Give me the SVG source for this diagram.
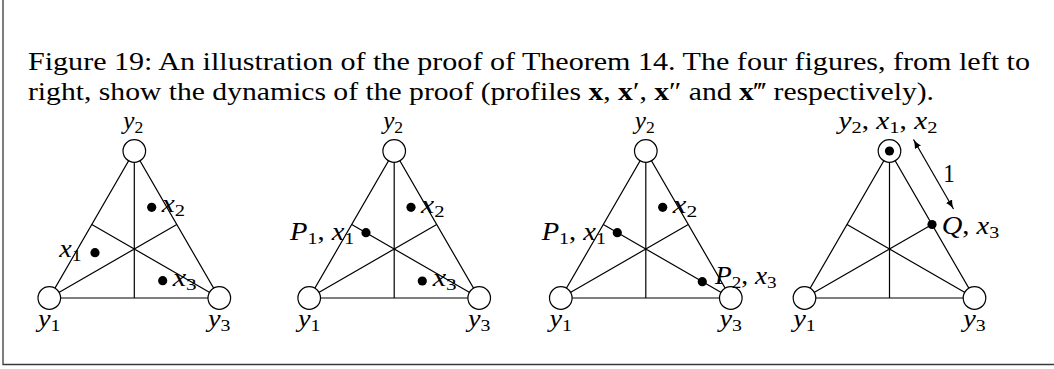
<svg xmlns="http://www.w3.org/2000/svg" width="1054" height="369" viewBox="0 0 1054 369">
<defs>
<style>
text { font-family: "Liberation Serif", "DejaVu Serif", serif; fill: #000; }
.cap { font-size: 25px; }
.lab { font-size: 25px; }
.i { font-style: italic; }
.b { font-weight: bold; }
.s { font-size: 17.5px; }
.edge { stroke: #000; stroke-width: 1.2; fill: none; }
.node { fill: #fff; stroke: #000; stroke-width: 1.2; }
.dot { fill: #000; stroke: none; }
.frame { stroke: #3a3a3a; stroke-width: 1.3; fill: none; }
</style>
<marker id="arr" viewBox="0 0 10 8" refX="10" refY="4" markerWidth="9" markerHeight="7.2" markerUnits="userSpaceOnUse" orient="auto-start-reverse">
<path d="M10,4 C7,4.6 3,6 0,8 L0,0 C3,2 7,3.4 10,4 Z" fill="#000"/>
</marker>
</defs>
<rect width="1054" height="369" fill="#fff"/>
<path class="frame" d="M3,0 V364.5 H1054"/>
<g id="caption">
<text class="cap" x="28" y="70" textLength="1002" lengthAdjust="spacingAndGlyphs">Figure 19: An illustration of the proof of Theorem 14. The four figures, from left to</text>
<text class="cap" x="28" y="100" textLength="906" lengthAdjust="spacingAndGlyphs">right, show the dynamics of the proof (profiles <tspan class="b">x</tspan>, <tspan class="b">x</tspan>′, <tspan class="b">x</tspan>″ and <tspan class="b">x</tspan>‴ respectively).</text>
</g>
<g id="connectors">
<path class="edge" d="M49.3,298 L219.3,298 L134.3,151 Z"/>
<path class="edge" d="M134.3,151 V298 M49.3,298 L176.8,224.5 M219.3,298 L91.8,224.5"/>
<path class="edge" d="M309.2,298 L479.2,298 L394.2,151 Z"/>
<path class="edge" d="M394.2,151 V298 M309.2,298 L436.7,224.5 M479.2,298 L351.7,224.5"/>
<path class="edge" d="M560.8,298 L730.8,298 L645.8,151 Z"/>
<path class="edge" d="M645.8,151 V298 M560.8,298 L688.3,224.5 M730.8,298 L603.3,224.5"/>
<path class="edge" d="M804.5,298 L974.5,298 L889.5,151 Z"/>
<path class="edge" d="M889.5,151 V298 M804.5,298 L932,224.5 M974.5,298 L847,224.5"/>
<line class="edge" x1="913.5" y1="139.5" x2="953.5" y2="209" marker-start="url(#arr)" marker-end="url(#arr)"/>
<text class="lab" x="943.3" y="182" textLength="11.5" lengthAdjust="spacingAndGlyphs">1</text>
</g>
<g id="t1-y2"><circle class="node" cx="134.3" cy="151" r="11.3"/><text class="lab" x="123.3" y="128.5" textLength="20" lengthAdjust="spacingAndGlyphs"><tspan class="i">y</tspan><tspan class="s" dy="4">2</tspan></text></g>
<g id="t1-y1"><circle class="node" cx="49.3" cy="298" r="11.3"/><text class="lab" x="38" y="326.5" textLength="22.5" lengthAdjust="spacingAndGlyphs"><tspan class="i">y</tspan><tspan class="s" dy="4">1</tspan></text></g>
<g id="t1-y3"><circle class="node" cx="219.3" cy="298" r="11.3"/><text class="lab" x="208" y="326.5" textLength="22.5" lengthAdjust="spacingAndGlyphs"><tspan class="i">y</tspan><tspan class="s" dy="4">3</tspan></text></g>
<g id="t1-x1"><circle class="dot" cx="95" cy="252.7" r="4.6"/><text class="lab" x="59.3" y="256.7" textLength="22.4" lengthAdjust="spacingAndGlyphs"><tspan class="i">x</tspan><tspan class="s" dy="4">1</tspan></text></g>
<g id="t1-x2"><circle class="dot" cx="151.7" cy="207.3" r="4.6"/><text class="lab" x="161.7" y="212.3" textLength="23.3" lengthAdjust="spacingAndGlyphs"><tspan class="i">x</tspan><tspan class="s" dy="4">2</tspan></text></g>
<g id="t1-x3"><circle class="dot" cx="162.7" cy="280.7" r="4.6"/><text class="lab" x="172.7" y="286" textLength="24" lengthAdjust="spacingAndGlyphs"><tspan class="i">x</tspan><tspan class="s" dy="4">3</tspan></text></g>
<g id="t2-y2"><circle class="node" cx="394.2" cy="151" r="11.3"/><text class="lab" x="383.2" y="128.5" textLength="20" lengthAdjust="spacingAndGlyphs"><tspan class="i">y</tspan><tspan class="s" dy="4">2</tspan></text></g>
<g id="t2-y1"><circle class="node" cx="309.2" cy="298" r="11.3"/><text class="lab" x="297.9" y="326.5" textLength="22.5" lengthAdjust="spacingAndGlyphs"><tspan class="i">y</tspan><tspan class="s" dy="4">1</tspan></text></g>
<g id="t2-y3"><circle class="node" cx="479.2" cy="298" r="11.3"/><text class="lab" x="467.9" y="326.5" textLength="22.5" lengthAdjust="spacingAndGlyphs"><tspan class="i">y</tspan><tspan class="s" dy="4">3</tspan></text></g>
<g id="t2-p1"><circle class="dot" cx="366" cy="232.7" r="4.6"/><text class="lab" x="290" y="240" textLength="64.3" lengthAdjust="spacingAndGlyphs"><tspan class="i">P</tspan><tspan class="s" dy="4">1</tspan><tspan dy="-4">, </tspan><tspan class="i">x</tspan><tspan class="s" dy="4">1</tspan></text></g>
<g id="t2-x2"><circle class="dot" cx="411" cy="207.3" r="4.6"/><text class="lab" x="421" y="212.8" textLength="23.5" lengthAdjust="spacingAndGlyphs"><tspan class="i">x</tspan><tspan class="s" dy="4">2</tspan></text></g>
<g id="t2-x3"><circle class="dot" cx="422.3" cy="281" r="4.6"/><text class="lab" x="432.7" y="286.3" textLength="24" lengthAdjust="spacingAndGlyphs"><tspan class="i">x</tspan><tspan class="s" dy="4">3</tspan></text></g>
<g id="t3-y2"><circle class="node" cx="645.8" cy="151" r="11.3"/><text class="lab" x="634.8" y="128.5" textLength="20" lengthAdjust="spacingAndGlyphs"><tspan class="i">y</tspan><tspan class="s" dy="4">2</tspan></text></g>
<g id="t3-y1"><circle class="node" cx="560.8" cy="298" r="11.3"/><text class="lab" x="549.5" y="326.5" textLength="22.5" lengthAdjust="spacingAndGlyphs"><tspan class="i">y</tspan><tspan class="s" dy="4">1</tspan></text></g>
<g id="t3-y3"><circle class="node" cx="730.8" cy="298" r="11.3"/><text class="lab" x="719.5" y="326.5" textLength="22.5" lengthAdjust="spacingAndGlyphs"><tspan class="i">y</tspan><tspan class="s" dy="4">3</tspan></text></g>
<g id="t3-p1"><circle class="dot" cx="617.3" cy="232.7" r="4.6"/><text class="lab" x="541.7" y="240" textLength="64.3" lengthAdjust="spacingAndGlyphs"><tspan class="i">P</tspan><tspan class="s" dy="4">1</tspan><tspan dy="-4">, </tspan><tspan class="i">x</tspan><tspan class="s" dy="4">1</tspan></text></g>
<g id="t3-x2"><circle class="dot" cx="662.7" cy="207.3" r="4.6"/><text class="lab" x="672.7" y="212.8" textLength="24.5" lengthAdjust="spacingAndGlyphs"><tspan class="i">x</tspan><tspan class="s" dy="4">2</tspan></text></g>
<g id="t3-p2"><circle class="dot" cx="702.3" cy="281.7" r="4.6"/><text class="lab" x="715" y="284" textLength="61.7" lengthAdjust="spacingAndGlyphs"><tspan class="i">P</tspan><tspan class="s" dy="4">2</tspan><tspan dy="-4">, </tspan><tspan class="i">x</tspan><tspan class="s" dy="4">3</tspan></text></g>
<g id="t4-y2"><circle class="node" cx="889.5" cy="151" r="11.3"/><circle class="dot" cx="889.5" cy="151" r="4.6"/><text class="lab" x="838.5" y="128.5" textLength="99" lengthAdjust="spacingAndGlyphs"><tspan class="i">y</tspan><tspan class="s" dy="4">2</tspan><tspan dy="-4">, </tspan><tspan class="i">x</tspan><tspan class="s" dy="4">1</tspan><tspan dy="-4">, </tspan><tspan class="i">x</tspan><tspan class="s" dy="4">2</tspan></text></g>
<g id="t4-y1"><circle class="node" cx="804.5" cy="298" r="11.3"/><text class="lab" x="793.2" y="326.5" textLength="22.5" lengthAdjust="spacingAndGlyphs"><tspan class="i">y</tspan><tspan class="s" dy="4">1</tspan></text></g>
<g id="t4-y3"><circle class="node" cx="974.5" cy="298" r="11.3"/><text class="lab" x="963.2" y="326.5" textLength="22.5" lengthAdjust="spacingAndGlyphs"><tspan class="i">y</tspan><tspan class="s" dy="4">3</tspan></text></g>
<g id="t4-q"><circle class="dot" cx="932" cy="224.5" r="4.6"/><text class="lab" x="941.7" y="234" textLength="57.6" lengthAdjust="spacingAndGlyphs"><tspan class="i">Q</tspan><tspan>, </tspan><tspan class="i">x</tspan><tspan class="s" dy="4">3</tspan></text></g>
</svg>
